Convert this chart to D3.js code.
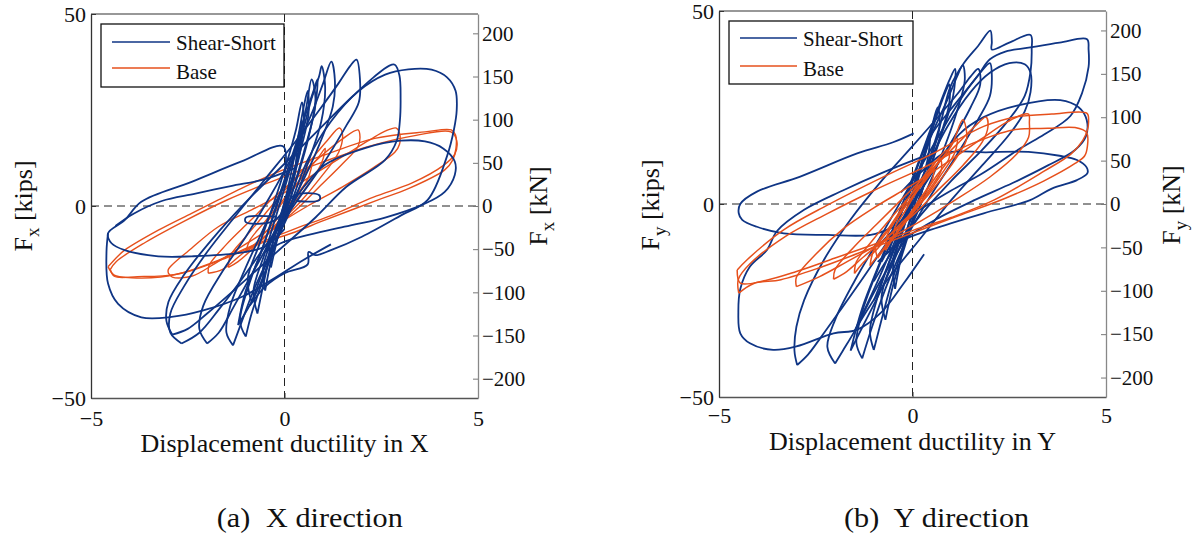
<!DOCTYPE html>
<html>
<head>
<meta charset="utf-8">
<script src="https://cdn.jsdelivr.net/npm/d3@7/dist/d3.min.js"></script>
<style>
  html, body { margin: 0; padding: 0; background: #fff; }
  svg { display: block; }
  svg text { font-family: "Liberation Serif", "Times New Roman", Times, "DejaVu Serif", serif !important; }
</style>
</head>
<body>
<svg id="chart" width="1195" height="540"></svg>
<script>
// ---------------- DATA ----------------
const seriesNames = ["Shear-Short", "Base"];
const ductilityTicks = [-5, 0, 5];
const kipsTicks = [-50, 0, 50];
const kNTicks = [-200, -150, -100, -50, 0, 50, 100, 150, 200];
const captions = [["(a)", "X direction"], ["(b)", "Y direction"]];
const xTitles = ["Displacement ductility in X", "Displacement ductility in Y"];
const axisSub = ["x", "y"];

// X direction, Shear-Short loops [ductility, kips]
const shearX_1 = [[-0.6,-18],[0.0,-4],[0.6,12],[1.2,22],[1.9,29.8],[2.6,34.2],[3.2,35.6],[3.8,35.5],[4.2,33.5],[4.42,30],[4.45,25],[4.38,20],[4.2,13],[3.7,1.6],[3.0,-2.5],[2.0,-8],[1.2,-11.5],[0.8,-12.8],[0.62,-12.0],[0.6,-15.2],[0,-17.5],[-0.5,-21],[-0.9,-26]];
const shearX_2 = [[-0.5,-12],[0.0,-3],[0.5,5],[1.04,10.7],[2.08,15.1],[3.0,17.0],[3.63,16.8],[4.1,15],[4.4,11.6],[4.4,8.1],[4.14,3.7],[3.6,0.5],[2.6,-3],[1.55,-5.4],[0.0,-9.3],[-0.5,-12]];
const shearX_3 = [[0.0,8],[-0.03,15.5],[-1.11,11.6],[-2.4,6.3],[-3.7,1.1],[-4.13,-3.7],[-4.56,-7.1],[-4.47,-9.7],[-4.13,-11.5],[-3.26,-13.1],[-2.4,-13.1],[-1.2,-12.3],[-0.52,-10.6],[0.0,-6]];
const shearX_4 = [[-4.56,-7.1],[-4.6,-12],[-4.56,-20.2],[-4.3,-25.5],[-3.7,-29],[-2.92,-28.9],[-2.1,-27.2],[-1.11,-23.7],[-0.34,-19.3],[0.5,-14],[1.2,-10]];
const shearX_5 = [[-2.66,-35.8],[-2.95,-33],[-2.95,-28],[-2.6,-21],[-2.0,-12],[-1.3,-3],[-0.5,7],[0.3,17],[0.9,25],[1.4,32],[1.7,36.5],[1.86,38.1],[1.95,33],[1.92,27],[1.6,21],[1.0,11],[0.3,1],[-0.4,-9],[-1.1,-19],[-1.7,-27],[-2.2,-33],[-2.66,-35.8]];
const shearX_6 = [[-2.0,-35.8],[-2.2,-32],[-2.1,-26],[-1.6,-17],[-1.0,-8],[-0.4,2],[0.2,13],[0.7,24],[1.0,32],[1.21,37.6],[1.3,33],[1.25,26],[0.9,16],[0.4,5],[-0.2,-6],[-0.8,-17],[-1.3,-26],[-1.7,-33],[-2.0,-35.8]];
const shearX_7 = [[-1.33,-36.3],[-1.5,-33],[-1.4,-26],[-1.0,-16],[-0.5,-5],[0.0,6],[0.4,17],[0.7,28],[0.9,34],[0.96,36.4],[1.05,31],[0.95,22],[0.6,11],[0.2,0],[-0.3,-11],[-0.8,-22],[-1.1,-30],[-1.33,-36.3]];
const shearX_8 = [[-2.9,-33.5],[-3.05,-30],[-3.0,-25],[-2.6,-18],[-1.9,-9],[-1.0,1],[0.0,11],[0.9,20],[1.7,28],[2.3,33.5],[2.7,36.5],[2.85,36.8],[2.97,34],[3.0,28],[2.98,22],[2.9,17],[2.6,12],[1.6,5],[0.8,-3],[-0.2,-12],[-1.2,-21],[-2.0,-28],[-2.5,-32],[-2.9,-33.5]];
const shearX_9 = [[-1.0,-34],[-1.15,-30],[-0.9,-20],[-0.5,-9],[-0.1,3],[0.3,15],[0.55,25],[0.7,33],[0.8,28],[0.6,17],[0.25,5],[-0.15,-7],[-0.55,-19],[-0.85,-28],[-1.0,-34]];
const shearX_10 = [[-0.7,-28],[-0.8,-22],[-0.5,-12],[-0.2,-2],[0.1,8],[0.35,18],[0.5,26],[0.6,30],[0.62,24],[0.4,14],[0.1,4],[-0.2,-6],[-0.45,-16],[-0.7,-28]];
const shearX_11 = [[-0.5,-22],[-0.55,-16],[-0.3,-8],[0,0],[0.25,9],[0.4,17],[0.45,22],[0.42,15],[0.2,6],[-0.05,-3],[-0.3,-12],[-0.5,-22]];
const shearX_12 = [[-0.35,-16],[-0.38,-10],[-0.15,-4],[0.05,3],[0.2,10],[0.3,15],[0.28,9],[0.1,2],[-0.1,-5],[-0.35,-16]];
const shearX_13 = [[-0.2,-2.8],[-1.0,-3.0],[-1.0,-4.2],[-0.3,-4.0],[0.0,-1],[0.25,2.8],[0.9,2.8],[0.9,1.5],[0.3,1.3]];
const shearX_14 = [[0.3,10],[-0.5,7],[-1.39,5.2],[-2.3,3.2],[-3.17,1.3],[-3.9,-2],[-4.37,-5.2]];
const shearX_15 = [[-1.2,-31],[-1.0,-22],[-0.6,-12],[-0.25,-1],[0.1,10],[0.45,21],[0.75,30],[0.85,33],[0.78,25],[0.5,14],[0.15,2],[-0.25,-10],[-0.7,-22],[-1.2,-31]];
const shearX_16 = [[-0.85,-25],[-0.95,-19],[-0.65,-10],[-0.3,0],[0.05,11],[0.3,20],[0.45,27],[0.5,21],[0.3,11],[0.0,0],[-0.35,-11],[-0.85,-25]];
const shearShortX = [shearX_1, shearX_2, shearX_3, shearX_4, shearX_5, shearX_6, shearX_7, shearX_8, shearX_9, shearX_10, shearX_11, shearX_12, shearX_13, shearX_14, shearX_15, shearX_16];

// X direction, Base loops
const baseX_1 = [[-4.56,-15.8],[-4.3,-13],[-4.13,-11.5],[-3.26,-6.3],[-2.4,-1.9],[-1.71,1.6],[-1.11,4.6],[-0.16,8.9],[1.04,13.3],[2.33,17.6],[3.63,19.3],[4.31,19.8],[4.42,18.5],[4.43,15],[4.35,12],[4.14,9.4],[3.2,4.5],[2.42,1.6],[1.04,-3.7],[0.18,-7.1],[-0.68,-10],[-1.5,-13.5],[-2.4,-16.8],[-3.2,-18.5],[-3.95,-18.7],[-4.4,-18],[-4.56,-15.8]];
const baseX_2 = [[-4.5,-16.5],[-4.35,-14.5],[-3.6,-9.5],[-2.6,-4],[-1.5,1.5],[-0.3,6.5],[1.0,11.5],[2.2,15.6],[3.4,18.4],[4.3,19.3],[4.45,17],[4.4,13.5],[4.1,10.5],[3.3,6],[2.3,2.3],[1.2,-2.5],[0.2,-6.2],[-0.8,-10.2],[-1.8,-14.5],[-2.8,-17.8],[-3.8,-18.4],[-4.4,-18.3],[-4.5,-16.5]];
const baseX_3 = [[-3.0,-17.5],[-3.0,-16.5],[-2.4,-11],[-1.71,-5.4],[-0.85,-1.0],[0.0,3.5],[0.8,8.5],[1.6,13.5],[2.2,17.2],[2.6,19.5],[2.89,20.3],[2.97,19],[2.97,16],[2.85,14],[2.3,10],[1.5,5],[0.6,0],[-0.3,-5.5],[-1.1,-10.5],[-1.8,-15],[-2.4,-18.3],[-2.9,-18.5],[-3.0,-17.5]];
const baseX_4 = [[-1.97,-17.5],[-1.95,-15.5],[-1.5,-10],[-0.9,-4],[-0.3,2],[0.4,8],[1.0,13.5],[1.5,17.5],[1.9,19.8],[1.95,18],[1.9,15.5],[1.5,11],[0.9,5],[0.3,-1],[-0.4,-7],[-1.1,-12.5],[-1.6,-16.5],[-1.97,-17.5]];
const baseX_5 = [[-1.45,-16],[-1.4,-13],[-1.0,-8],[-0.5,-2],[0.0,4],[0.6,11],[1.1,17],[1.42,20.3],[1.5,18.5],[1.4,14],[0.9,7],[0.4,1],[-0.2,-5],[-0.7,-10],[-1.2,-14.5],[-1.45,-16]];
const baseX_6 = [[-1.0,-12],[-0.9,-9],[-0.5,-4],[0,2],[0.5,8],[0.9,13],[1.05,15],[0.95,11],[0.5,4],[0.0,-2],[-0.5,-8],[-1.0,-12]];
const baseX_7 = [[-0.6,-8],[-0.5,-5],[-0.2,-1],[0.2,4],[0.55,9],[0.7,11],[0.6,7],[0.2,1.5],[-0.2,-3.5],[-0.6,-8]];
const baseXAll = [baseX_1, baseX_2, baseX_3, baseX_4, baseX_5, baseX_6, baseX_7];

// Y direction, Shear-Short loops
const shearY_1 = [[-0.6,-12],[0.0,6],[0.46,17.5],[0.98,24.4],[1.67,33],[2.0,37.5],[2.4,39.5],[3.0,40.5],[3.8,41.8],[4.51,42.7],[4.55,40],[4.55,35.5],[4.38,28.7],[4.08,22.8],[3.4,18],[2.8,14.5],[1.8,7.9],[1.0,3.5],[0.33,-0.6],[-0.3,-5],[-0.9,-11]];
const shearY_2 = [[-1.0,-25],[-0.4,-10],[0.2,5],[0.7,20],[0.98,30.4],[1.33,36.5],[1.7,41],[2.01,44.9],[2.05,42],[2.05,40],[2.5,41.8],[3.05,43.8],[3.08,40],[3.05,34.3],[2.9,28],[2.5,22],[1.8,14],[1.0,6],[0.2,-3],[-0.5,-12],[-1.0,-20]];
const shearY_3 = [[-1.5,-33],[-0.9,-20],[-0.3,-6],[0.3,8],[0.9,20],[1.5,29],[2.0,34],[2.5,36.5],[2.9,36.2],[3.05,34],[3.05,29],[2.9,24],[2.5,18],[1.8,10],[1.0,1],[0.2,-9],[-0.6,-19],[-1.2,-28],[-1.5,-33]];
const shearY_4 = [[-2.0,-41.3],[-2.2,-37],[-2.0,-30],[-1.5,-20],[-0.8,-8],[0.0,6],[0.7,18],[1.3,28],[1.75,34],[2.0,36.5],[2.05,33],[2.0,28],[1.7,22],[1.1,12],[0.4,1],[-0.3,-11],[-1.0,-23],[-1.5,-33],[-1.8,-38],[-2.0,-41.3]];
const shearY_5 = [[-2.98,-41.7],[-3.05,-38],[-3.0,-31.8],[-2.8,-24.9],[-2.29,-14.5],[-1.6,-4],[-0.8,6],[0.0,15],[0.7,23],[1.2,29],[1.5,33],[1.7,35],[1.75,31],[1.5,25],[1.0,16],[0.3,5],[-0.4,-6],[-1.2,-18],[-1.9,-28],[-2.4,-35],[-2.7,-39],[-2.98,-41.7]];
const shearY_6 = [[-1.3,-40],[-1.45,-36],[-1.3,-28],[-0.9,-17],[-0.4,-5],[0.1,7],[0.5,18],[0.9,27],[1.15,33],[1.3,36],[1.35,32],[1.15,24],[0.8,14],[0.3,2],[-0.2,-10],[-0.7,-22],[-1.05,-32],[-1.3,-40]];
const shearY_7 = [[-1.0,-37.8],[-1.1,-33],[-0.9,-24],[-0.5,-12],[-0.1,0],[0.3,12],[0.6,22],[0.85,29],[0.95,31],[0.95,26],[0.7,17],[0.3,5],[-0.1,-7],[-0.5,-19],[-0.8,-30],[-1.0,-37.8]];
const shearY_8 = [[-0.7,-30],[-0.8,-24],[-0.5,-14],[-0.15,-3],[0.15,8],[0.45,18],[0.65,25],[0.7,20],[0.45,11],[0.15,0],[-0.2,-11],[-0.5,-21],[-0.7,-30]];
const shearY_9 = [[-0.45,-22],[-0.5,-16],[-0.25,-7],[0.05,3],[0.3,12],[0.45,18],[0.4,12],[0.15,3],[-0.15,-7],[-0.45,-22]];
const shearY_10 = [[0.03,18.3],[-0.5,16],[-1.43,13.1],[-2.9,7.1],[-4.02,3.2],[-4.45,0],[-4.49,-2.4],[-4.4,-4.1],[-4.02,-5.9],[-3.33,-7.6],[-2.2,-8],[-1.08,-8.0],[-0.5,-6]];
const shearY_11 = [[0.2,12],[-0.8,8],[-1.8,3.5],[-2.8,-1.5],[-3.5,-7],[-3.76,-11.9],[-4.2,-16.2],[-4.45,-22],[-4.5,-28],[-4.45,-33.5],[-4.2,-36.1],[-3.6,-37.8],[-3.0,-36.9],[-2.04,-33.5],[-1.44,-32.6],[-0.8,-28],[-0.23,-20.6],[0.3,-13]];
const shearY_12 = [[-0.3,3],[0.3,9],[0.83,13.2],[1.9,13.4],[3.0,13.5],[3.8,12.5],[4.25,11.4],[4.5,9.5],[4.52,8],[4.25,6.2],[3.6,4],[3.04,1],[1.84,-2.4],[0.46,-6.7],[-0.23,-9.3],[-0.6,-12]];
const shearY_13 = [[-0.8,-15],[-0.1,-2],[0.63,10],[1.2,18],[1.84,22.5],[2.7,25.5],[3.82,26.9],[4.3,25],[4.5,21.8],[4.48,17.5],[4.2,14],[3.5,10],[2.6,5.5],[1.6,1],[0.6,-4],[-0.2,-9],[-0.9,-15]];
const shearY_14 = [[-1.6,-38],[-1.3,-27],[-0.8,-14],[-0.3,-1],[0.2,12],[0.6,23],[0.95,32],[1.1,35],[1.05,28],[0.75,18],[0.3,5],[-0.2,-8],[-0.8,-22],[-1.3,-32],[-1.6,-38]];
const shearShortY = [shearY_1, shearY_2, shearY_3, shearY_4, shearY_5, shearY_6, shearY_7, shearY_8, shearY_9, shearY_10, shearY_11, shearY_12, shearY_13, shearY_14];

// Y direction, Base loops
const baseY_1 = [[-4.53,-17.1],[-4.28,-14.5],[-3.33,-6.7],[-2.2,-0.3],[-0.74,7.1],[0.55,13.2],[1.84,20.1],[2.7,22.6],[3.6,23.3],[4.51,23.5],[4.55,21.5],[4.52,19.2],[4.4,16.5],[4.1,13],[3.4,8.5],[2.1,1],[1.0,-3.5],[0.05,-6.7],[-1.0,-10.5],[-2.0,-14],[-3.0,-17.5],[-3.8,-19.8],[-4.45,-20.5],[-4.53,-17.1]];
const baseY_2 = [[-4.49,-23.1],[-4.5,-19.5],[-4.2,-15.5],[-3.3,-8.5],[-2.2,-2.5],[-1.0,3.5],[0.3,9.5],[1.5,15.5],[2.6,19.2],[3.5,19.6],[4.2,19.8],[4.5,18.5],[4.52,15],[4.45,12.5],[4.2,10.5],[3.4,6],[2.4,1.5],[1.2,-3],[0.0,-7.5],[-1.2,-12],[-2.4,-16.5],[-3.4,-19.6],[-4.1,-20.6],[-4.49,-23.1]];
const baseY_3 = [[-3.0,-21.4],[-3.0,-19],[-2.5,-13],[-1.8,-6.5],[-1.0,-1],[0.0,5],[1.0,11.5],[1.8,17],[2.4,21],[2.8,23],[3.0,23.3],[3.02,21],[3.0,17.3],[2.7,13],[2.0,7],[1.1,1],[0.2,-4.5],[-0.8,-10],[-1.7,-15],[-2.4,-18.8],[-3.0,-21.4]];
const baseY_4 = [[-2.04,-19.5],[-2.0,-17],[-1.5,-11],[-0.9,-5],[-0.2,2],[0.5,9],[1.1,15],[1.6,20],[1.9,22.5],[1.95,20],[1.8,16],[1.3,10],[0.6,3],[0.0,-3],[-0.7,-9],[-1.3,-14],[-1.7,-17.5],[-2.04,-19.5]];
const baseY_5 = [[-1.5,-18],[-1.45,-15],[-1.0,-9],[-0.5,-3],[0.1,4],[0.6,10],[1.0,15],[1.3,21.8],[1.4,17],[1.2,13],[0.7,6],[0.2,0],[-0.4,-6],[-0.9,-11.5],[-1.3,-15.5],[-1.5,-18]];
const baseY_6 = [[-0.9,-14],[-0.95,-11],[-0.6,-6],[-0.2,0],[0.2,6],[0.6,11],[0.9,14],[0.95,12],[0.6,7],[0.2,1],[-0.2,-5],[-0.6,-10],[-0.9,-14]];
const baseY_7 = [[-0.7,-12],[-0.65,-8],[-0.35,-3],[0,2],[0.35,7],[0.7,12],[0.75,9],[0.45,4],[0.1,-1],[-0.3,-6],[-0.7,-12]];
const baseY_8 = [[-0.5,-9],[-0.45,-6],[-0.2,-2],[0.1,3],[0.4,7],[0.55,9],[0.5,6],[0.2,1.5],[-0.1,-3],[-0.5,-9]];
const baseY_9 = [[-1.1,-16],[-1.0,-12],[-0.6,-6.5],[-0.1,0.5],[0.4,7],[0.85,13],[1.15,17],[1.1,13.5],[0.7,7],[0.2,0],[-0.3,-6],[-0.75,-11.5],[-1.1,-16]];
const baseYAll = [baseY_1, baseY_2, baseY_3, baseY_4, baseY_5, baseY_6, baseY_7, baseY_8, baseY_9];

// ---------------- DRAWING ----------------
const KN_PER_KIP = 4.448;
const BLUE = "#0f3585";
const ORANGE = "#e6501c";
const SERIF = "'Liberation Serif', 'Times New Roman', Times, 'DejaVu Serif', serif";

const svg = d3.select("#chart");

const panels = [
  { x0: 91, x1: 478, y0: 14, y1: 398, shear: shearShortX, base: baseXAll, blueOnTop: true,
    legend: { bx: 101, by: 24, bw: 183, bh: 63, lx0: 112, lx1: 170, ly: [42, 68], tx: 176, tb: [50, 79] },
    leftTitleX: 32, rightTitleX: 547, titleCY: 206, xTitleY: 452, tickBase: 426, capY: 527, capA: 216.7, capB: 266 },
  { x0: 719, x1: 1106, y0: 11, y1: 397, shear: shearShortY, base: baseYAll, blueOnTop: false,
    legend: { bx: 729, by: 21, bw: 184, bh: 63, lx0: 740, lx1: 797, ly: [38, 66], tx: 803, tb: [46, 76] },
    leftTitleX: 659, rightTitleX: 1180, titleCY: 205, xTitleY: 450, tickBase: 423, capY: 527, capA: 844, capB: 893.5 }
];

panels.forEach((p, i) => {
  const xs = d3.scaleLinear().domain([-5, 5]).range([p.x0, p.x1]);
  const ys = d3.scaleLinear().domain([-50, 50]).range([p.y1, p.y0]);
  const ykN = d3.scaleLinear().domain([-50 * KN_PER_KIP, 50 * KN_PER_KIP]).range([p.y1, p.y0]);
  const g = svg.append("g").attr("font-family", SERIF);

  const clipId = "clip" + i;
  svg.append("clipPath").attr("id", clipId)
    .append("rect").attr("x", p.x0).attr("y", p.y0).attr("width", p.x1 - p.x0).attr("height", p.y1 - p.y0);

  // zero lines
  g.append("line").attr("x1", p.x0).attr("x2", p.x1).attr("y1", ys(0)).attr("y2", ys(0))
    .attr("stroke", "#222").attr("stroke-width", 1).attr("stroke-dasharray", "8,5");
  g.append("line").attr("x1", xs(0)).attr("x2", xs(0)).attr("y1", p.y0).attr("y2", p.y1)
    .attr("stroke", "#222").attr("stroke-width", 1).attr("stroke-dasharray", "8,5");

  const line = d3.line().x(d => xs(d[0])).y(d => ys(d[1])).curve(d3.curveCatmullRom.alpha(0.5));
  const dataG = g.append("g").attr("clip-path", `url(#${clipId})`);

  const drawSet = (set, color, w) => {
    dataG.append("g").selectAll("path").data(set).join("path")
      .attr("d", line).attr("fill", "none").attr("stroke", color)
      .attr("stroke-width", w).attr("stroke-linejoin", "round");
  };
  if (p.blueOnTop) { drawSet(p.base, ORANGE, 1.4); drawSet(p.shear, BLUE, 1.8); }
  else { drawSet(p.shear, BLUE, 1.8); drawSet(p.base, ORANGE, 1.5); }

  // frame top
  g.append("line").attr("x1", p.x0).attr("x2", p.x1).attr("y1", p.y0).attr("y2", p.y0)
    .attr("stroke", "#333").attr("stroke-width", 1.2);

  const tickFont = (sel, size) => {
    sel.attr("font-family", SERIF).attr("font-size", size);
    sel.selectAll("text").attr("font-family", SERIF).style("font-size", size + "px").attr("fill", "#111");
  };

  // left axis (kips)
  const axL = g.append("g").attr("transform", `translate(${p.x0},0)`)
    .call(d3.axisLeft(ys).tickValues(kipsTicks).tickSizeInner(-5).tickSizeOuter(0).tickPadding(5).tickFormat(d3.format("d")));
  axL.select(".domain").attr("stroke", "#333").attr("stroke-width", 1.3);
  axL.selectAll(".tick line").attr("stroke", "#333");
  tickFont(axL, 22);

  // bottom axis
  const axB = g.append("g").attr("transform", `translate(0,${p.y1})`)
    .call(d3.axisBottom(xs).tickValues(ductilityTicks).tickSizeInner(-5).tickSizeOuter(0).tickPadding(7).tickFormat(d3.format("d")));
  axB.select(".domain").attr("stroke", "#555").attr("stroke-width", 1.3);
  axB.selectAll(".tick line").attr("stroke", "#333");
  tickFont(axB, 22);
  axB.selectAll("text").attr("dy", null).attr("y", p.tickBase - p.y1);

  // right axis (kN)
  const axR = g.append("g").attr("transform", `translate(${p.x1},0)`)
    .call(d3.axisRight(ykN).tickValues(kNTicks).tickSizeInner(-5).tickSizeOuter(0).tickPadding(4).tickFormat(d3.format("d")));
  axR.select(".domain").attr("stroke", "#888").attr("stroke-width", 1.3);
  axR.selectAll(".tick line").attr("stroke", "#777");
  tickFont(axR, 21);

  // axis titles
  const mkYTitle = (x, unit) => {
    const t = g.append("text")
      .attr("transform", `translate(${x},${p.titleCY}) rotate(-90)`)
      .attr("text-anchor", "middle").attr("font-family", SERIF).style("font-size", "26px").attr("fill", "#111");
    t.append("tspan").text("F");
    t.append("tspan").attr("dy", 7).style("font-size", "19px").text(axisSub[i]);
    t.append("tspan").attr("dy", -7).text("\u00a0" + unit);
  };
  mkYTitle(p.leftTitleX, "[kips]");
  mkYTitle(p.rightTitleX, "[kN]");

  g.append("text").attr("x", (p.x0 + p.x1) / 2).attr("y", p.xTitleY).attr("font-family", SERIF)
    .attr("text-anchor", "middle").style("font-size", "26px").attr("fill", "#111").text(xTitles[i]);

  // captions (slightly widened glyphs as in the reference)
  [p.capA, p.capB].forEach((cx, k) => {
    g.append("text").attr("transform", `translate(${cx},${p.capY}) scale(1.12,1)`)
      .attr("font-family", SERIF).style("font-size", "27px").attr("fill", "#111").text(captions[i][k]);
  });

  // legend
  const L = p.legend;
  const lg = g.append("g");
  lg.append("rect").attr("x", L.bx).attr("y", L.by).attr("width", L.bw).attr("height", L.bh)
    .attr("fill", "#fff").attr("stroke", "#111").attr("stroke-width", 1.3);
  [BLUE, ORANGE].forEach((c, k) => {
    lg.append("line").attr("x1", L.lx0).attr("x2", L.lx1).attr("y1", L.ly[k]).attr("y2", L.ly[k])
      .attr("stroke", c).attr("stroke-width", 1.3);
    lg.append("text").attr("x", L.tx).attr("y", L.tb[k]).attr("font-family", SERIF).style("font-size", "21px").attr("fill", "#111").text(seriesNames[k]);
  });
});
</script>
</body>
</html>
